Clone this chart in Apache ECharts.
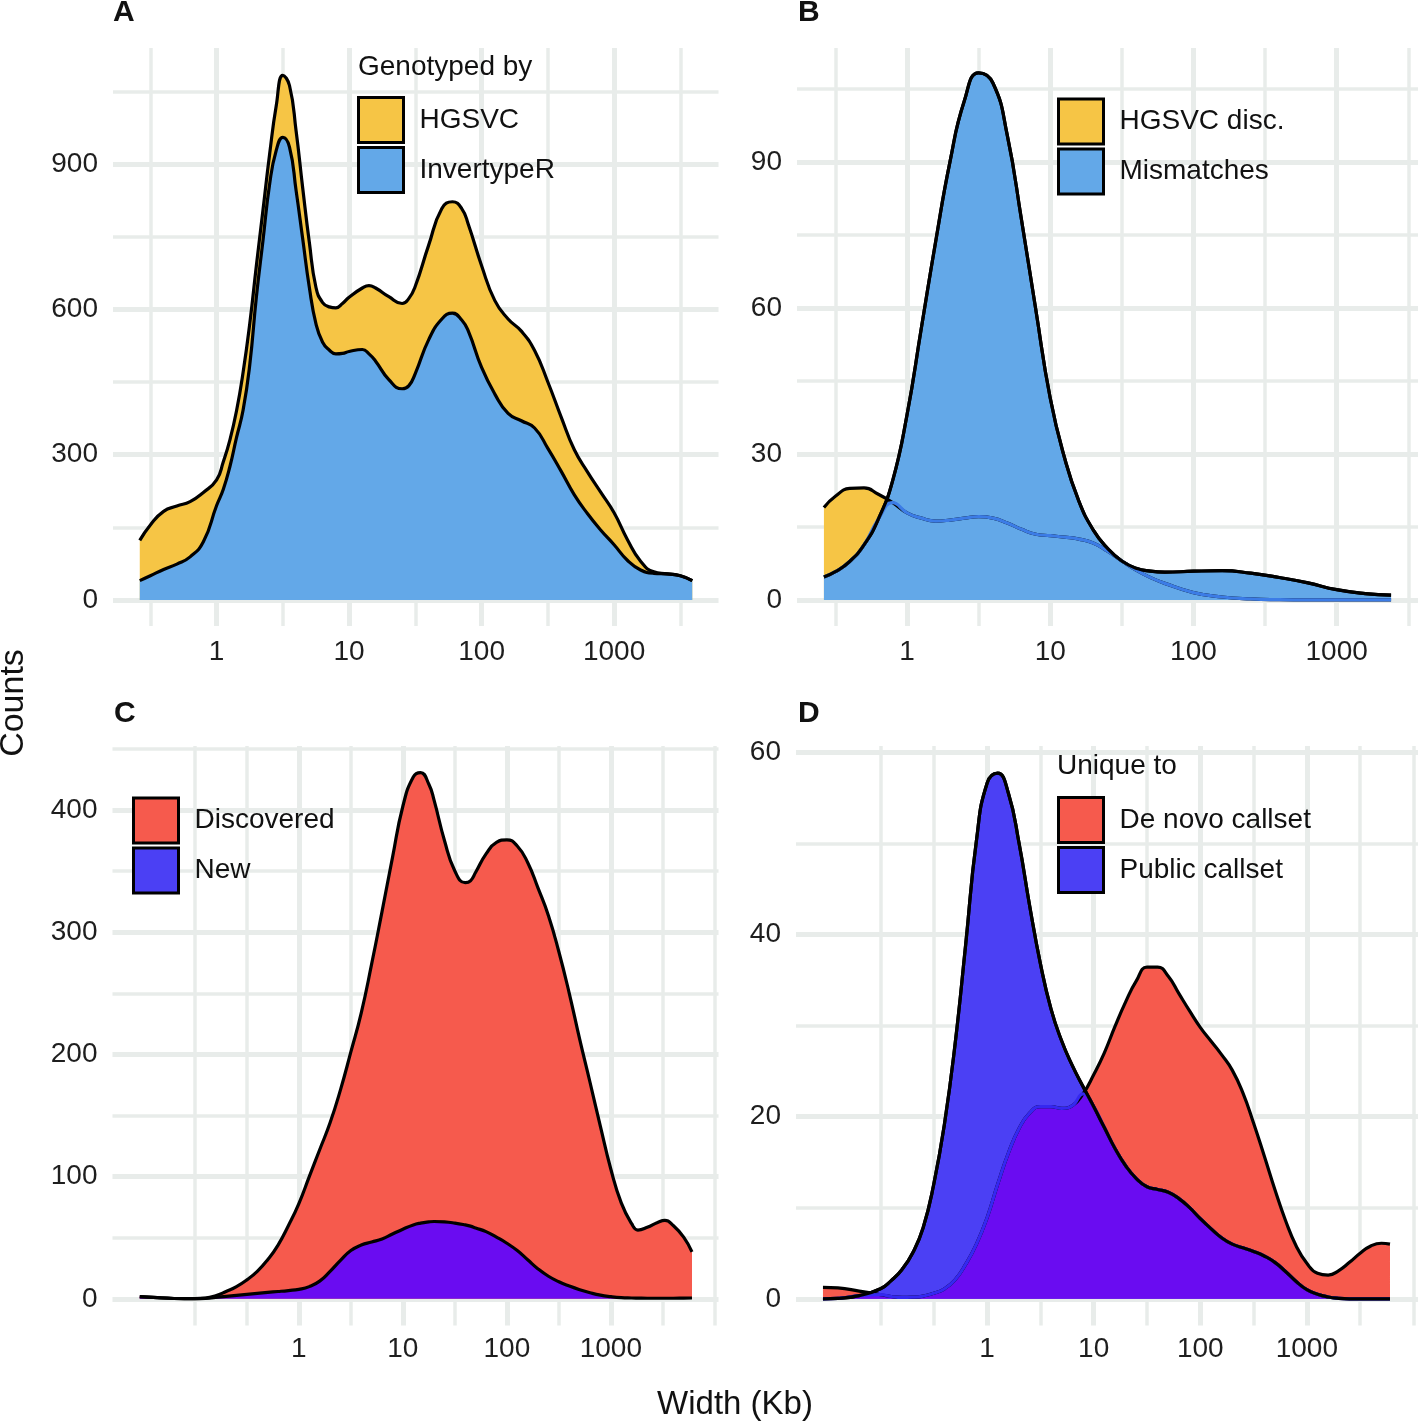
<!DOCTYPE html>
<html>
<head>
<meta charset="utf-8">
<script src="https://cdn.jsdelivr.net/npm/echarts@6/dist/echarts.min.js"></script>
<style>
html,body{margin:0;padding:0;background:#fff;}
#c{width:1418px;height:1424px;}
</style>
</head>
<body>
<div id="c"></div>
<script>
// ---------------- DATA (x = log10 of width in Kb) ----------------
// Panel A
const logWidthA = [-0.58,-0.5,-0.4,-0.3,-0.2,-0.1,0,0.05,0.1,0.15,0.2,0.25,0.3,0.35,0.4,0.45,0.5,0.55,0.6,0.65,0.7,0.75,0.8,0.85,0.9,0.95,1.0,1.1,1.15,1.2,1.3,1.4,1.45,1.5,1.6,1.7,1.78,1.85,1.9,2.0,2.1,2.2,2.3,2.4,2.5,2.6,2.7,2.8,2.9,3.0,3.1,3.2,3.3,3.4,3.5,3.59];
const hgsvcA = [123,155,183,194,203,222,248,285,330,390,470,570,690,805,920,1020,1083,1062,968,850,738,645,614,605,603,612,625,644,649,644,626,612,622,648,732,808,822,808,775,690,618,580,555,515,450,378,310,264,222,180,125,80,58,54,50,40];
const invertypeRA = [40,50,63,74,89,120,195,228,275,335,392,485,625,742,858,928,955,935,845,745,645,570,532,516,508,509,513,517,508,493,455,436,442,468,537,580,592,578,555,480,425,385,370,355,313,266,217,178,144,114,82,62,55,54,50,40];

// Panel B
const logWidthB = [-0.58,-0.5,-0.4,-0.3,-0.2,-0.1,0,0.1,0.2,0.3,0.4,0.5,0.6,0.7,0.8,0.9,1.0,1.1,1.2,1.3,1.4,1.5,1.6,1.7,1.8,2.0,2.2,2.4,2.6,2.8,3.0,3.2,3.38];
const hgsvcDiscB = [19.0,21.3,22.9,23.0,21.7,20.0,17.9,16.8,16.2,16.4,16.8,17.1,16.8,15.8,14.5,13.5,13.2,12.9,12.5,11.7,10.0,8.0,6.1,4.6,3.4,1.5,0.6,0.2,0.05,0,0,0,0];
const mismatchesB = [4.7,5.8,7.9,11.3,16.6,24.5,38.0,55.8,73.6,90.0,102.5,108.3,106.2,95.5,78.0,59.5,41.5,29.2,20.3,14.4,10.6,8.0,6.5,5.9,5.7,5.9,6.0,5.5,4.6,3.5,2.1,1.3,1.0];

// Panel C
const logWidthC = [-1.53,-1.4,-1.2,-1.0,-0.9,-0.8,-0.7,-0.6,-0.5,-0.4,-0.3,-0.2,-0.1,0,0.1,0.2,0.3,0.4,0.5,0.6,0.7,0.8,0.9,1.0,1.1,1.17,1.25,1.3,1.4,1.5,1.6,1.65,1.7,1.8,1.9,2.0,2.1,2.2,2.3,2.4,2.5,2.6,2.7,2.8,2.9,3.0,3.1,3.2,3.26,3.35,3.45,3.52,3.6,3.7,3.78];
const discoveredC = [1.9,1.2,0.3,0.2,0.6,2.5,6.0,10.0,15.5,22.5,32.0,44.0,60.0,78.0,100.0,122.0,144.0,171.0,202.0,234.0,274.0,317.0,361.0,403.0,427.0,430.5,421.0,408.0,375.0,350.0,340.5,342.0,349.0,364.0,373.5,375.5,370.5,357.0,336.0,313.5,284.0,250.0,212.5,177.0,141.0,106.0,78.5,61.5,56.3,58.5,62.5,64.2,60.0,50.5,38.5];
const newC = [1.9,1.2,0.3,0.2,0.4,1.2,2.0,2.8,3.6,4.5,5.3,6.0,6.8,7.8,10.0,14.5,22.5,31.5,39.5,44.0,46.5,49.0,53.0,57.0,60.5,62.0,63.0,63.3,63.0,62.0,60.5,59.5,58.0,55.0,50.5,45.5,39.5,32.0,24.5,18.5,14.0,10.5,7.5,5.0,3.0,1.8,1.0,0.7,0.6,0.5,0.5,0.5,0.5,0.6,0.7];

// Panel D
const logWidthD = [-1.54,-1.4,-1.2,-1.0,-0.9,-0.8,-0.7,-0.6,-0.5,-0.4,-0.3,-0.2,-0.1,0,0.1,0.2,0.3,0.4,0.5,0.6,0.7,0.8,0.9,1.0,1.1,1.2,1.3,1.4,1.5,1.6,1.7,1.8,1.9,2.0,2.1,2.2,2.3,2.4,2.5,2.6,2.7,2.8,2.9,3.0,3.1,3.2,3.3,3.4,3.5,3.6,3.7,3.78];
const deNovoD = [1.26,1.2,0.85,0.45,0.25,0.15,0.18,0.3,0.6,1.1,2.1,3.8,6.0,8.9,12.6,16.0,18.7,20.4,21.1,21.1,20.9,21.2,22.5,24.6,27.0,29.9,32.6,34.9,36.4,36.4,35.4,33.5,31.6,29.8,28.3,26.8,25.1,22.6,19.3,15.7,12.0,8.6,5.8,3.9,2.8,2.6,3.1,4.0,5.0,5.8,6.1,6.0];
const publicD = [0.0,0.05,0.35,1.1,2.0,3.2,5.0,7.8,12.6,19.2,28.0,39.0,50.3,56.6,57.7,55.5,50.0,43.1,36.8,31.8,28.3,25.6,23.3,21.1,18.8,16.5,14.6,13.2,12.3,12.0,11.7,11.0,10.0,8.8,7.7,6.7,6.0,5.6,5.2,4.7,4.0,3.0,1.9,1.0,0.5,0.2,0.05,0,0,0,0,0];

// Tick labels
const xTickPos = [0,1,2,3];
const xTickLabels = ['1','10','100','1000'];
const yTicksA = [0,300,600,900];
const yTicksB = [0,30,60,90];
const yTicksC = [0,100,200,300,400];
const yTicksD = [0,20,40,60];

// ---------------- STYLE ----------------
const FONT = '"Liberation Sans", Arial, Helvetica, sans-serif';
const GRID_COLOR = '#e8ecea';
const MAJOR_W = 5, MINOR_W = 3.5;
const YELLOW = '#F6C545', SKY = '#63A8E8', RED = '#F65A4D', VIOLET = '#4B40F4', PURPLE = '#6A0CF1';
const TXT = '#1e1e1e';
const SMOOTH = 0.5;
const LW = 3.2;

function pairs(xs, ys) { return xs.map((x, i) => [x, ys[i]]); }
function minPairs(xs, a, b) { return xs.map((x, i) => [x, Math.min(a[i], b[i])]); }

function xAxes(grid, min, max, majors, minors, margin) {
  return [
    {type:'value', gridIndex:grid, min:min, max:max,
     axisLine:{show:false}, axisTick:{show:false, customValues:majors},
     axisLabel:{customValues:xTickPos, fontSize:28, color:TXT, fontFamily:FONT, margin:margin,
       formatter: function (v) { const i = xTickPos.findIndex(p => Math.abs(p - v) < 1e-9); return i >= 0 ? xTickLabels[i] : ''; }},
     splitLine:{show:true, lineStyle:{color:GRID_COLOR, width:MAJOR_W}}},
    {type:'value', gridIndex:grid, min:min, max:max,
     axisLine:{show:false}, axisTick:{show:false, customValues:minors}, axisLabel:{show:false},
     splitLine:{show:true, lineStyle:{color:GRID_COLOR, width:MINOR_W}}}
  ];
}
function yAxes(grid, min, max, majors, minors) {
  return [
    {type:'value', gridIndex:grid, min:min, max:max,
     axisLine:{show:false}, axisTick:{show:false, customValues:majors},
     axisLabel:{customValues:majors, fontSize:28, color:TXT, fontFamily:FONT, margin:15},
     splitLine:{show:true, lineStyle:{color:GRID_COLOR, width:MAJOR_W}}},
    {type:'value', gridIndex:grid, min:min, max:max,
     axisLine:{show:false}, axisTick:{show:false, customValues:minors}, axisLabel:{show:false},
     splitLine:{show:true, lineStyle:{color:GRID_COLOR, width:MINOR_W}}}
  ];
}
function area(name, p, data, fill, lineColor) {
  return {type:'line', name:name, xAxisIndex:2*p, yAxisIndex:2*p, data:data,
    showSymbol:false, symbol:'none', smooth:SMOOTH, silent:true,
    lineStyle:{color:lineColor || '#000', width:LW, join:'round'},
    itemStyle:{color:fill}, areaStyle:{color:fill, opacity:1}};
}
function lineOnly(name, p, data, color) {
  return {type:'line', name:name, xAxisIndex:2*p, yAxisIndex:2*p, data:data,
    showSymbol:false, symbol:'none', smooth:SMOOTH, silent:true,
    lineStyle:{color:color, width:LW, join:'round'}, itemStyle:{color:color}};
}
function legend(names, left, top, extra) {
  return {data:names.map((n, i) => Object.assign({name:n}, (extra && extra[i]) || {})),
    orient:'vertical', left:left, top:top, padding:0, icon:'rect',
    itemWidth:45, itemHeight:45, itemGap:2, selectedMode:false, z:20,
    itemStyle:{borderColor:'#000', borderWidth:3},
    textStyle:{fontSize:28, color:'#111', fontFamily:FONT, padding:[0,0,0,11]}};
}
function txt(text, x, y, font) {
  return {type:'text', x:x, y:y, z:100, silent:true,
    style:{text:text, x:0, y:0, fill:'#111', font:font,
      align:'left', textAlign:'left', verticalAlign:'middle', textVerticalAlign:'middle'}};
}

const chart = echarts.init(document.getElementById('c'), null, {renderer:'canvas', width:1418, height:1424});

const option = {
  animation:false,
  backgroundColor:'#ffffff',
  grid:[
    {left:113, top:48, width:605.5, height:578, outerBoundsMode:'none'},
    {left:797, top:48, width:621, height:578, outerBoundsMode:'none'},
    {left:112.5, top:746, width:606, height:579.5, outerBoundsMode:'none'},
    {left:796, top:746, width:622, height:579.5, outerBoundsMode:'none'}
  ],
  xAxis:[].concat(
    xAxes(0, -0.782, 3.788, [0,1,2,3], [-0.5,0.5,1.5,2.5,3.5], 12),
    xAxes(1, -0.768, 3.568, [0,1,2,3], [-0.5,0.5,1.5,2.5,3.5], 12),
    xAxes(2, -1.792, 4.035, [0,1,2,3], [-1,-0.5,0.5,1.5,2.5,3.5,4], 10),
    xAxes(3, -1.793, 4.043, [0,1,2,3], [-1,-0.5,0.5,1.5,2.5,3.5,4], 10)
  ),
  yAxis:[].concat(
    yAxes(0, -53.7, 1139.4, yTicksA, [150,450,750,1050]),
    yAxes(1, -5.36, 113.4, yTicksB, [15,45,75,105]),
    yAxes(2, -21.8, 452.3, yTicksC, [50,150,250,350,450]),
    yAxes(3, -2.93, 60.68, yTicksD, [10,30,50])
  ),
  legend:[
    legend(['HGSVC','InvertypeR'], 357, 96),
    legend(['HGSVC disc.','Mismatches'], 1057, 97.5),
    legend(['Discovered','New'], 132, 796.5, [null, {itemStyle:{color:VIOLET}}]),
    legend(['De novo callset','Public callset'], 1057, 796)
  ],
  series:[
    // A
    area('HGSVC', 0, pairs(logWidthA, hgsvcA), YELLOW),
    area('InvertypeR', 0, pairs(logWidthA, invertypeRA), SKY),
    // B
    area('HGSVC disc.', 1, pairs(logWidthB, hgsvcDiscB), YELLOW),
    area('Mismatches', 1, pairs(logWidthB, mismatchesB), SKY),
    lineOnly('overlapB', 1, minPairs(logWidthB, hgsvcDiscB, mismatchesB), '#3C7CE6'),
    lineOnly('mismatchesOutline', 1, pairs(logWidthB, mismatchesB), '#000'),
    // C
    area('Discovered', 2, pairs(logWidthC, discoveredC), RED),
    area('New', 2, pairs(logWidthC, newC), PURPLE),
    // D
    area('De novo callset', 3, pairs(logWidthD, deNovoD), RED),
    area('Public callset', 3, pairs(logWidthD, publicD), VIOLET),
    area('overlapD', 3, minPairs(logWidthD, deNovoD, publicD), PURPLE, '#3528F0'),
    lineOnly('publicOutline', 3, pairs(logWidthD, publicD), '#000')
  ],
  graphic:[
    txt('A', 113, 13, 'bold 30px ' + FONT),
    txt('B', 798, 13, 'bold 30px ' + FONT),
    txt('C', 114, 714, 'bold 30px ' + FONT),
    txt('D', 798, 714, 'bold 30px ' + FONT),
    txt('Genotyped by', 358, 67, '28px ' + FONT),
    txt('Unique to', 1057, 766, '28px ' + FONT),
    {type:'text', x:14, y:703, z:100, rotation:Math.PI/2, silent:true,
     style:{text:'Counts', x:0, y:0, fill:'#111', font:'34px ' + FONT, align:'center', textAlign:'center', verticalAlign:'middle', textVerticalAlign:'middle'}},
    {type:'text', x:735, y:1405, z:100, silent:true,
     style:{text:'Width (Kb)', x:0, y:0, fill:'#111', font:'33px ' + FONT, align:'center', textAlign:'center', verticalAlign:'middle', textVerticalAlign:'middle'}}
  ]
};
chart.setOption(option);
</script>
</body>
</html>
